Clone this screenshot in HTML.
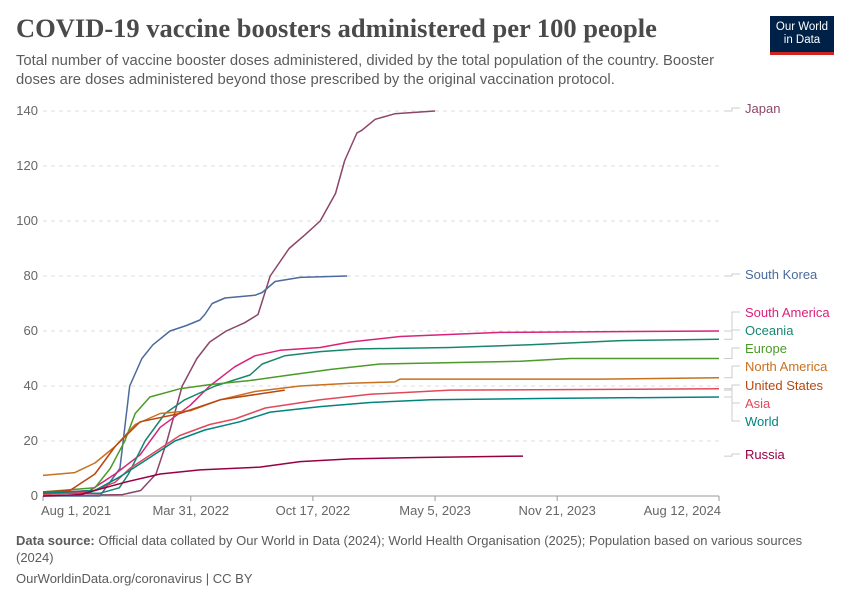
<!DOCTYPE html>
<html><head><meta charset="utf-8">
<style>
body{margin:0;background:#fff;width:850px;height:600px;overflow:hidden;font-family:"Liberation Sans",sans-serif;position:relative}
.title{position:absolute;left:16px;top:13px;font-family:"Liberation Serif",serif;font-size:26.5px;font-weight:bold;color:#4a4a4a;white-space:nowrap}
.sub{position:absolute;left:16px;top:52px;width:728px;font-size:14.8px;line-height:19px;color:#5b5b5b}
.logo{position:absolute;left:770px;top:16px;width:64px;height:36px;background:#002147;border-bottom:3px solid #ce261e;color:#fff;font-size:11.5px;line-height:13px;text-align:center;display:flex;align-items:center;justify-content:center}
.foot{position:absolute;left:16px;font-size:13px;color:#5b5b5b;line-height:17px}
svg{position:absolute;left:0;top:0}
</style></head><body>
<div class="title">COVID-19 vaccine boosters administered per 100 people</div>
<div class="sub">Total number of vaccine booster doses administered, divided by the total population of the country. Booster doses are doses administered beyond those prescribed by the original vaccination protocol.</div>
<div class="logo">Our World<br>in Data</div>
<div class="foot" style="top:532px;width:815px"><b>Data source:</b> Official data collated by Our World in Data (2024); World Health Organisation (2025); Population based on various sources (2024)</div>
<div class="foot" style="top:570px">OurWorldinData.org/coronavirus | CC BY</div>
<svg id="chart" width="850" height="600"></svg>
<script>
const yTicks=[0,20,40,60,80,100,120,140];
const xTickLabels=["Aug 1, 2021","Mar 31, 2022","Oct 17, 2022","May 5, 2023","Nov 21, 2023","Aug 12, 2024"];
const xTickDays=[0,242,442,642,842,1107];
const seriesNames=["Japan","South Korea","South America","Oceania","Europe","North America","United States","Asia","World","Russia"];
const seriesColors=["#8c4569","#4c6a9c","#d9227a","#18866f","#4c9a2a","#c8701d","#b9460f","#e2485a","#00847e","#970046"];
const japanDays=[0,130,160,185,203,228,252,273,300,330,352,372,403,429,454,479,494,514,522,544,576,642];
const japanVals=[0,0.5,2,8,20,40,50,56,60,63,66,80,90,95,100,110,122,132,133,137,139,140];
const koreaDays=[0,93,126,142,162,180,208,235,257,265,277,298,347,359,380,421,498];
const koreaVals=[0,0,10,40,50,55,60,62,64,66,70,72,73,74,78,79.5,80];
const samDays=[0,77,118,159,192,241,273,314,347,388,454,503,585,748,1107];
const samVals=[1,2,8,15,25,33,40,47,51,53,54,56,58,59.5,60];
const oceDays=[0,93,125,140,167,200,232,282,339,359,396,454,519,667,798,946,1107];
const oceVals=[1,1,3,8,20,30,35,40,44,48,51,52.5,53.5,54,55,56.5,57];
const eurDays=[0,85,110,134,151,175,224,273,339,404,470,552,782,863,1107];
const eurVals=[1.5,3,10,20,30,36,39,40.5,42,44,46,48,49,50,50];
const namDays=[0,52,85,118,151,192,241,290,347,421,503,576,585,913,1107];
const namVals=[7.5,8.5,12,18,26,30,31,35,38,40,41,41.5,42.5,42.5,43];
const usaDays=[0,44,85,118,159,224,290,396];
const usaVals=[1.5,2,8,18,27,30,35,38.5];
const asiaDays=[0,77,118,142,183,224,273,314,364,454,536,667,1107];
const asiaVals=[0.5,1.5,5,10,16,22,26,28,32,35,37,38.5,39];
const worldDays=[0,85,126,175,216,265,322,372,454,536,635,830,1107];
const worldVals=[1,2,7,14,20,24,27,30.5,32.5,34,35,35.5,36];
const russiaDays=[0,61,101,134,192,257,355,421,503,618,786];
const russiaVals=[0,0.5,3,5,8,9.5,10.5,12.5,13.5,14,14.5];
const allDays=[japanDays,koreaDays,samDays,oceDays,eurDays,namDays,usaDays,asiaDays,worldDays,russiaDays];
const allVals=[japanVals,koreaVals,samVals,oceVals,eurVals,namVals,usaVals,asiaVals,worldVals,russiaVals];
const labelY=[112,278,316,334,352,370,389,407,425,458];

const NS="http://www.w3.org/2000/svg";
const svg=document.getElementById('chart');
const X0=43,X1=719,Y0=496,Y1=111;
const xs=d=>X0+(X1-X0)*d/1107;
const ys=v=>Y0-(Y0-Y1)*v/140;
function mk(t,a){const e=document.createElementNS(NS,t);for(const k in a)e.setAttribute(k,a[k]);svg.appendChild(e);return e;}
yTicks.forEach(v=>{
  const l=mk('line',{x1:X0,x2:X1,y1:ys(v),y2:ys(v),stroke:v===0?'#999':'#ddd','stroke-dasharray':v===0?'':'4,4'});
  
  
  const t=mk('text',{x:38,y:ys(v)+4,'text-anchor':'end','font-size':13,fill:'#666','font-family':'Liberation Sans'});
  t.textContent=v;
  
  
});
xTickDays.forEach((d,i)=>{
  const l=mk('line',{x1:xs(d),x2:xs(d),y1:Y0,y2:Y0+5,stroke:'#999'});
  
  
  const anchor=i===0?'start':(i===xTickDays.length-1?'end':'middle');
  const t=mk('text',{x:i===0?X0-2:(i===xTickDays.length-1?X1+2:xs(d)),y:Y0+19,'text-anchor':anchor,'font-size':13,fill:'#666','font-family':'Liberation Sans'});
  t.textContent=xTickLabels[i];
  
  
});
seriesNames.forEach((n,i)=>{
  const days=allDays[i],vals=allVals[i];
  const pts=days.map((d,j)=>xs(d).toFixed(1)+','+ys(vals[j]).toFixed(1)).join(' ');
  const p=mk('polyline',{points:pts,fill:'none',stroke:seriesColors[i],'stroke-width':1.5,'stroke-linejoin':'round'});
  
  
  const endY=ys(vals[vals.length-1]);
  const ly=labelY[i]-4;
  const c=mk('path',{d:`M${724},${endY} H732 V${ly} H740`,fill:'none',stroke:'#ccc','stroke-width':1});
  
  
  const t=mk('text',{x:745,y:labelY[i]+1,'font-size':13,fill:seriesColors[i],'font-family':'Liberation Sans'});
  t.textContent=n;
  
  
});
</script>
</body></html>
